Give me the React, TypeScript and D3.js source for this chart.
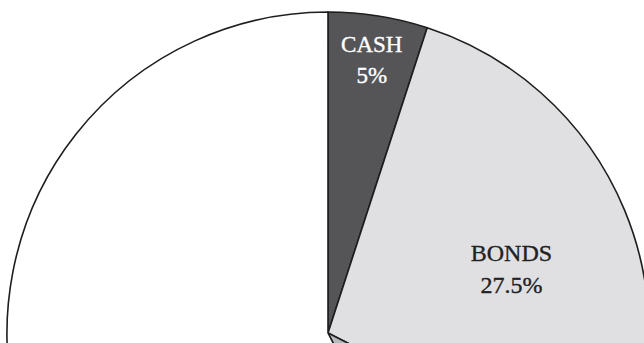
import React from "react";
import * as d3 from "d3";

const categories = ["CASH", "BONDS", "REAL ESTATE", "STOCKS"];
const values = [5, 27.5, 10, 57.5];
const valueLabels = ["5%", "27.5%", "10%", "57.5%"];
const fills = ["#555558", "#e0e0e2", "#b9b9bd", "#ffffff"];
const textColors = ["#ffffff", "#222222", "#222222", "#222222"];

const W = 644;
const H = 343;
const cx = 328;
const cy = 333;
const R = 321;
const labelRadius = [280, 192, 190, 190];
const labelShiftX = [0, 6, 0, 0];
const labelShiftY = [0, 6, 0, 0];
const fontSizes = [23, 24, 22, 22];

export default function App() {
  const pie = d3.pie<number>().sort(null).value((d) => d);
  const arcs = pie(values);
  const arcGen = d3.arc<d3.PieArcDatum<number>>().innerRadius(0).outerRadius(R);

  return (
    <svg
      width={W}
      height={H}
      style={{ position: "fixed", left: 0, top: 0, background: "#fff" }}
    >
      <g transform={`translate(${cx},${cy})`}>
        {arcs.map((a, i) => (
          <path
            key={i}
            d={arcGen(a) || ""}
            fill={fills[i]}
            stroke="#1e1e1e"
            strokeWidth={1.6}
            strokeLinejoin="round"
          />
        ))}
        {arcs.map((a, i) => {
          const mid = (a.startAngle + a.endAngle) / 2;
          const lr = labelRadius[i];
          const x = Math.sin(mid) * lr + labelShiftX[i];
          const y = -Math.cos(mid) * lr + labelShiftY[i];
          // only slices whose label falls inside the visible frame get text
          if (cy + y + 30 > H || cx + x < 0 || cx + x > W) return null;
          return (
            <text
              key={"t" + i}
              x={x}
              y={y}
              textAnchor="middle"
              fill={textColors[i]}
              stroke={textColors[i]}
              strokeWidth={0.35}
              fontFamily="'Liberation Serif', 'Times New Roman', serif"
              fontSize={fontSizes[i]}
            >
              <tspan x={x} dy="-0.2em">{categories[i]}</tspan>
              <tspan x={x} dy="1.35em">{valueLabels[i]}</tspan>
            </text>
          );
        })}
      </g>
    </svg>
  );
}
